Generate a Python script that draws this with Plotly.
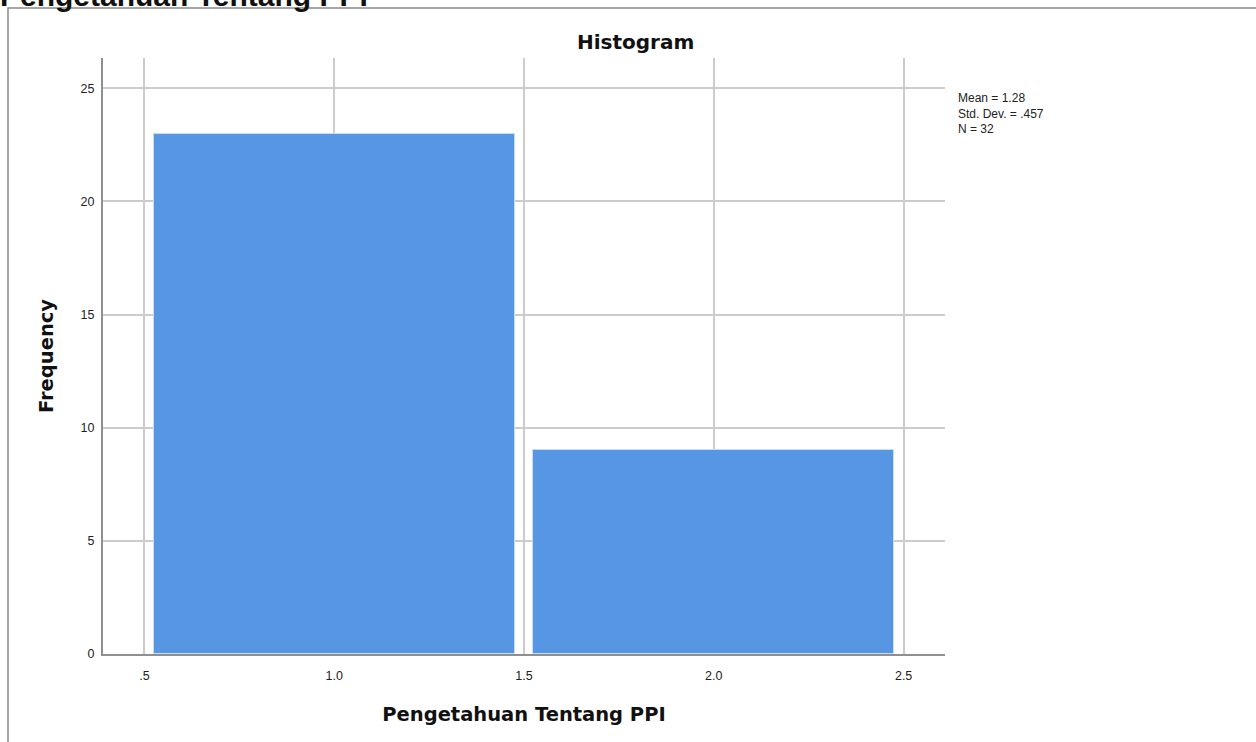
import plotly.graph_objects as go

# Data
bin_centers = [1.0, 2.0]
frequencies = [23, 9]
x_tick_values = [0.5, 1.0, 1.5, 2.0, 2.5]
x_tick_labels = [".5", "1.0", "1.5", "2.0", "2.5"]
y_tick_values = [0, 5, 10, 15, 20, 25]
y_tick_labels = ["0", "5", "10", "15", "20", "25"]
stats_lines = ["Mean = 1.28", "Std. Dev. = .457", "N = 32"]
chart_title = "Histogram"
page_title = "Pengetahuan Tentang PPI"
x_title = "Pengetahuan Tentang PPI"
y_title = "Frequency"

FONT = "Arial, Liberation Sans, sans-serif"
WIDE = "DejaVu Sans, Arial, sans-serif"

fig = go.Figure()
fig.add_trace(go.Bar(
    x=bin_centers, y=frequencies, width=0.95,
    marker=dict(color="#5796e3", line=dict(color="#c9dcf6", width=1)),
    showlegend=False, hoverinfo="x+y",
))

L, R, T, B = 103, 311, 58, 88
W, H = 1256, 742
pw, ph = W - L - R, H - T - B

def px_x(x):
    return (x - L) / pw

def px_y(y):
    return 1 - (y - T) / ph

fig.update_layout(
    width=W, height=H,
    margin=dict(l=L, r=R, t=T, b=B, pad=0),
    paper_bgcolor="white", plot_bgcolor="white",
    font=dict(family=FONT, color="#222222", size=12),
    bargap=0,
    xaxis=dict(
        range=[0.391, 2.609], tickmode="array", tickvals=x_tick_values, ticktext=x_tick_labels,
        showgrid=True, gridcolor="#cccccc", gridwidth=1.5,
        showline=True, linecolor="#8f8f8f", linewidth=2,
        zeroline=False, ticks="outside", ticklen=9, tickcolor="rgba(0,0,0,0)",
        tickfont=dict(size=12.5, color="#222222"),
        title=dict(text="<b>%s</b>" % x_title, font=dict(size=19.5, color="#111111", family=WIDE), standoff=25),
    ),
    yaxis=dict(
        range=[0, 26.34], tickmode="array", tickvals=y_tick_values, ticktext=y_tick_labels,
        showgrid=True, gridcolor="#cccccc", gridwidth=1.5,
        showline=True, linecolor="#8f8f8f", linewidth=2,
        zeroline=False, ticks="outside", ticklen=4, tickcolor="rgba(0,0,0,0)",
        tickfont=dict(size=12.5, color="#222222"),
        title=dict(text="<b>%s</b>" % y_title, font=dict(size=19.5, color="#111111", family=WIDE), standoff=22),
    ),
)

# Chart title
fig.add_annotation(
    text="<b>%s</b>" % chart_title, xref="paper", yref="paper",
    x=px_x(635), y=px_y(42), xanchor="center", yanchor="middle",
    showarrow=False, font=dict(size=20, color="#111111", family=WIDE),
)
# Stats box
fig.add_annotation(
    text="<br>".join(stats_lines), xref="paper", yref="paper",
    x=px_x(956), y=px_y(89), xanchor="left", yanchor="top", align="left",
    showarrow=False, font=dict(size=12, color="#222222", family=FONT),
)
# Cut-off page title
fig.add_annotation(
    text="<b>%s</b>" % page_title, xref="paper", yref="paper",
    x=px_x(-2), y=px_y(14), xanchor="left", yanchor="bottom",
    showarrow=False, font=dict(size=30, color="#111111", family=FONT),
)
# Frame
fig.add_shape(
    type="path", xref="paper", yref="paper",
    path="M %f %f L %f %f L %f %f" % (px_x(8), px_y(760), px_x(8), px_y(8), px_x(1270), px_y(8)),
    line=dict(color="#8a8a8a", width=1.5),
)

fig.write_html(
    "out.html",
    config={"displayModeBar": False},
    post_script="document.body.style.margin='0';document.body.style.overflow='hidden';",
)
